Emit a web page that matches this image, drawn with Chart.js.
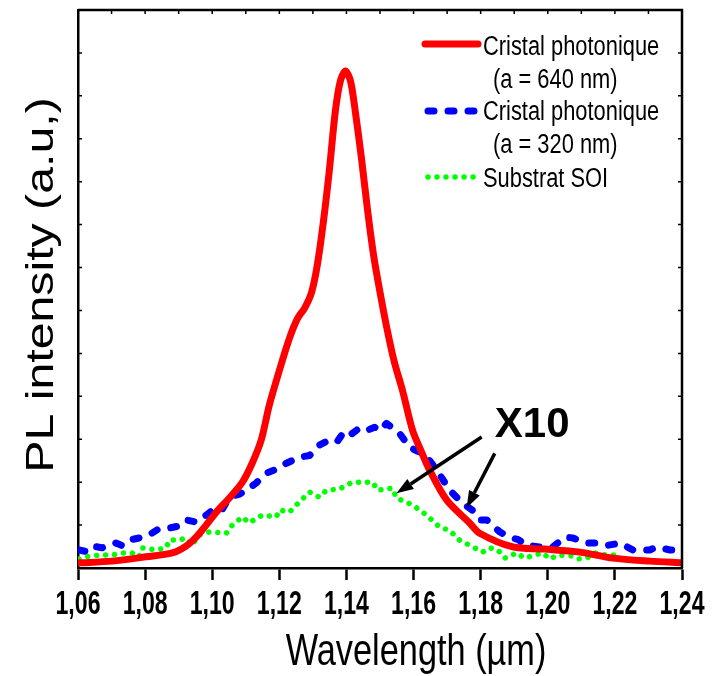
<!DOCTYPE html>
<html>
<head>
<meta charset="utf-8">
<script src="https://cdn.jsdelivr.net/npm/chart.js"></script>
<style>
  body { margin: 0; background: #fff; }
  #wrap { width: 722px; height: 676px; }
</style>
</head>
<body>
<div id="wrap"><canvas id="plChart" width="722" height="676"></canvas></div>
<script>
// ===== data =====
const redX = [1.0603, 1.0701, 1.0803, 1.0881, 1.0922, 1.0952, 1.0982, 1.1012, 1.1051, 1.109, 1.1119, 1.1146, 1.117, 1.12, 1.123, 1.1254, 1.1275, 1.1296, 1.1313, 1.1331, 1.1349, 1.1367, 1.1382, 1.1397, 1.1412, 1.1427, 1.1445, 1.1463, 1.1481, 1.1499, 1.1522, 1.1543, 1.1567, 1.1597, 1.1624, 1.1648, 1.1699, 1.1767, 1.1797, 1.1896, 1.1991, 1.2096, 1.2194, 1.2304, 1.24];
const redY = [0.12, 0.16, 0.26, 0.35, 0.51, 0.72, 1.0, 1.3, 1.63, 2.0, 2.44, 2.98, 3.79, 4.6, 5.35, 5.81, 6.05, 6.42, 7.05, 8.05, 9.26, 10.65, 11.35, 11.58, 11.35, 10.6, 9.53, 8.33, 7.28, 6.47, 5.53, 4.79, 4.14, 3.21, 2.7, 2.28, 1.58, 1.05, 0.81, 0.49, 0.44, 0.37, 0.23, 0.16, 0.12];

const blueX = [1.0603, 1.0633, 1.0652, 1.0672, 1.0713, 1.0732, 1.0752, 1.0782, 1.0812, 1.0842, 1.0872, 1.0902, 1.0922, 1.0952, 1.0982, 1.1012, 1.1031, 1.1051, 1.1081, 1.1101, 1.1131, 1.1161, 1.1191, 1.1221, 1.126, 1.129, 1.1319, 1.1349, 1.1372, 1.1394, 1.1415, 1.1439, 1.146, 1.1484, 1.1502, 1.1519, 1.1558, 1.1588, 1.1627, 1.1648, 1.1669, 1.1708, 1.1746, 1.1775, 1.1797, 1.1818, 1.1857, 1.1887, 1.1912, 1.1937, 1.1976, 1.2015, 1.2051, 1.2075, 1.2116, 1.2146, 1.2179, 1.2215, 1.2254, 1.2304, 1.2325, 1.2364, 1.24];
const blueY = [0.42, 0.37, 0.5, 0.47, 0.58, 0.52, 0.65, 0.7, 0.77, 0.92, 0.93, 0.98, 1.12, 1.07, 1.23, 1.42, 1.38, 1.65, 1.72, 1.81, 1.98, 2.21, 2.3, 2.44, 2.58, 2.62, 2.86, 2.98, 2.94, 3.19, 3.12, 3.26, 3.2, 3.28, 3.2, 3.37, 3.14, 2.81, 2.67, 2.5, 2.28, 1.81, 1.51, 1.35, 1.12, 1.12, 0.84, 0.72, 0.66, 0.53, 0.49, 0.49, 0.72, 0.7, 0.58, 0.58, 0.53, 0.58, 0.42, 0.42, 0.49, 0.42, 0.4];

const greenX = [1.0603, 1.0624, 1.0663, 1.0701, 1.0731, 1.0761, 1.0782, 1.0791, 1.0833, 1.0863, 1.0872, 1.0901, 1.0922, 1.094, 1.0961, 1.0991, 1.1042, 1.106, 1.109, 1.111, 1.1149, 1.1191, 1.12, 1.123, 1.1251, 1.129, 1.1319, 1.134, 1.1379, 1.1418, 1.146, 1.1478, 1.1493, 1.1537, 1.1549, 1.1597, 1.1639, 1.1678, 1.1707, 1.1737, 1.1767, 1.1806, 1.1827, 1.1851, 1.1872, 1.1907, 1.1931, 1.1961, 1.1985, 1.2006, 1.203, 1.2072, 1.209, 1.2116, 1.214, 1.2176, 1.22];
const greenY = [0.21, 0.26, 0.3, 0.3, 0.35, 0.35, 0.26, 0.47, 0.42, 0.47, 0.65, 0.65, 0.7, 0.53, 0.77, 0.84, 0.81, 1.0, 1.19, 1.05, 1.23, 1.19, 1.35, 1.3, 1.47, 1.77, 1.65, 1.81, 1.84, 2.0, 2.0, 2.0, 1.81, 1.86, 1.63, 1.47, 1.23, 0.95, 0.88, 0.65, 0.53, 0.37, 0.47, 0.42, 0.23, 0.35, 0.23, 0.3, 0.35, 0.21, 0.3, 0.28, 0.21, 0.23, 0.35, 0.3, 0.3];

const xTicks = [1.06, 1.08, 1.10, 1.12, 1.14, 1.16, 1.18, 1.20, 1.22, 1.24];
const legendLines = [
  ["Cristal photonique", "(a = 640 nm)"],
  ["Cristal photonique", "(a = 320 nm)"],
  ["Substrat SOI"],
];
// "X10" note and its two arrows, in data units (wavelength, intensity)
const noteText = "X10";
const notePos = [1.1842, 3.05];
const arrows = [
  [1.1803, 3.05, 1.1549, 1.74],
  [1.1842, 2.67, 1.1758, 1.40],
];

function pts(xs, ys) {
  return xs.map((x, i) => ({ x: x, y: ys[i] }));
}

const FONT = "'Liberation Sans', Arial, sans-serif";

// draws text squeezed / stretched horizontally
function sText(ctx, txt, x, y, font, sx, align) {
  ctx.save();
  ctx.font = font;
  ctx.translate(x, y);
  ctx.scale(sx, 1);
  ctx.textAlign = align;
  ctx.textBaseline = "alphabetic";
  ctx.fillStyle = "#000";
  ctx.fillText(txt, 0, 0);
  ctx.restore();
}

function arrow(ctx, x1, y1, x2, y2) {
  const ang = Math.atan2(y2 - y1, x2 - x1);
  const len = 17, half = 6;
  const bx = x2 - len * Math.cos(ang), by = y2 - len * Math.sin(ang);
  ctx.beginPath();
  ctx.moveTo(x1, y1);
  ctx.lineTo(bx, by);
  ctx.lineWidth = 3.5;
  ctx.strokeStyle = "#000";
  ctx.stroke();
  ctx.beginPath();
  ctx.moveTo(x2, y2);
  ctx.lineTo(bx - half * Math.sin(ang), by + half * Math.cos(ang));
  ctx.lineTo(bx + half * Math.sin(ang), by - half * Math.cos(ang));
  ctx.closePath();
  ctx.fillStyle = "#000";
  ctx.fill();
}

const extras = {
  id: "extras",
  afterDraw(chart) {
    const ctx = chart.ctx;
    const a = chart.chartArea;
    const xs = chart.scales.x, ys = chart.scales.y;

    // top + right frame
    ctx.save();
    ctx.strokeStyle = "#000";
    ctx.lineWidth = 2.5;
    ctx.beginPath();
    ctx.moveTo(a.left, a.top);
    ctx.lineTo(a.right, a.top);
    ctx.lineTo(a.right, a.bottom);
    ctx.stroke();

    // small inward ticks
    ctx.lineWidth = 1.5;
    ctx.beginPath();
    for (let v = 1.07; v < 1.24; v += 0.01) {
      const px = xs.getPixelForValue(v);
      ctx.moveTo(px, a.top);
      ctx.lineTo(px, a.top + 4);
    }
    for (let v = 1; v < 13; v++) {
      const py = ys.getPixelForValue(v);
      ctx.moveTo(a.left, py);
      ctx.lineTo(a.left + 4, py);
      ctx.moveTo(a.right, py);
      ctx.lineTo(a.right - 4, py);
    }
    ctx.stroke();
    ctx.restore();

    // x tick labels
    xTicks.forEach((t) => {
      const px = xs.getPixelForValue(t);
      sText(ctx, t.toFixed(2).replace(".", ","), px, 614, "bold 33px " + FONT, 0.7, "center");
    });

    // axis titles
    sText(ctx, "Wavelength (\u00b5m)", 416, 665, "44px " + FONT, 0.78, "center");
    ctx.save();
    ctx.translate(53, 285);
    ctx.rotate(-Math.PI / 2);
    sText(ctx, "PL intensity (a.u,)", 0, 0, "38px " + FONT, 1.27, "center");
    ctx.restore();

    // legend
    const ds = chart.data.datasets;
    const rowY = [44, 111, 177];
    const baseY = [[55, 88], [120, 153], [187]];
    ds.forEach((d, i) => {
      ctx.save();
      ctx.strokeStyle = d.borderColor;
      ctx.lineWidth = d.borderWidth;
      ctx.lineCap = d.borderCapStyle || "butt";
      ctx.setLineDash(d.borderDash || []);
      ctx.beginPath();
      ctx.moveTo(i === 0 ? 425 : 428, rowY[i]);
      ctx.lineTo(478, rowY[i]);
      ctx.stroke();
      ctx.restore();
      legendLines[i].forEach((s, k) => {
        sText(ctx, s, k === 0 ? 483 : 493, baseY[i][k], "27px " + FONT, 0.81, "left");
      });
    });

    // X10 note and arrows
    sText(ctx, noteText, xs.getPixelForValue(notePos[0]), ys.getPixelForValue(notePos[1]), "bold 42px " + FONT, 1, "left");
    arrows.forEach((r) => {
      arrow(ctx, xs.getPixelForValue(r[0]), ys.getPixelForValue(r[1]),
        xs.getPixelForValue(r[2]), ys.getPixelForValue(r[3]));
    });
  },
};

new Chart(document.getElementById("plChart").getContext("2d"), {
  type: "line",
  data: {
    datasets: [
      {
        label: "Cristal photonique (a = 640 nm)",
        data: pts(redX, redY),
        borderColor: "#ff0000",
        borderWidth: 7,
        borderCapStyle: "round",
        borderJoinStyle: "round",
        tension: 0.3,
        pointRadius: 0,
        order: 1,
      },
      {
        label: "Cristal photonique (a = 320 nm)",
        data: pts(blueX, blueY),
        borderColor: "#0000ff",
        borderWidth: 7,
        borderDash: [6, 14],
        borderCapStyle: "round",
        borderJoinStyle: "round",
        tension: 0,
        pointRadius: 0,
        order: 2,
      },
      {
        label: "Substrat SOI",
        data: pts(greenX, greenY),
        borderColor: "#00ff00",
        borderWidth: 5.5,
        borderDash: [0.01, 9],
        borderCapStyle: "round",
        tension: 0,
        pointRadius: 0,
        order: 3,
      },
    ],
  },
  options: {
    responsive: false,
    animation: false,
    layout: { padding: { left: 70, right: 40, top: 10, bottom: 96 } },
    plugins: {
      legend: { display: false },
      tooltip: { enabled: false },
    },
    scales: {
      x: {
        type: "linear",
        min: 1.06,
        max: 1.24,
        afterBuildTicks: (s) => {
          s.ticks = xTicks.map((v) => ({ value: v }));
        },
        ticks: { display: false },
        grid: {
          display: true,
          drawOnChartArea: false,
          drawTicks: true,
          tickLength: 12,
          tickWidth: 2.5,
          tickColor: "#000",
        },
        border: { display: true, color: "#000", width: 2.5 },
      },
      y: {
        type: "linear",
        min: 0,
        max: 13,
        ticks: { display: false },
        grid: { display: false },
        border: { display: true, color: "#000", width: 2.5 },
      },
    },
  },
  plugins: [extras],
});
</script>
</body>
</html>
